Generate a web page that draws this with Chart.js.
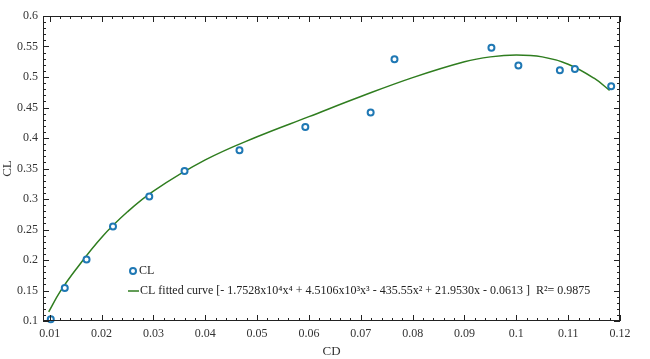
<!DOCTYPE html>
<html>
<head>
<meta charset="utf-8">
<script src="https://cdn.jsdelivr.net/npm/chart.js@4/dist/chart.umd.min.js"></script>
<style>
  html, body { margin: 0; padding: 0; background: #fff; }
  #wrap { width: 650px; height: 359px; }
</style>
</head>
<body>
<div id="wrap"><canvas id="line-chart"></canvas></div>
<script>
// measured CL vs CD points
var cdValues = [0.0102, 0.0129, 0.0171, 0.0222, 0.0292, 0.0360, 0.0466, 0.0593, 0.0719, 0.0765, 0.0952, 0.1004, 0.1084, 0.1113, 0.1183];
var clValues = [0.103, 0.154, 0.201, 0.255, 0.304, 0.346, 0.380, 0.418, 0.442, 0.529, 0.548, 0.519, 0.511, 0.513, 0.485];

// fitted curve
var fitCD = [0.0098, 0.0120, 0.0150, 0.0200, 0.0250, 0.0300, 0.0400, 0.0500, 0.0600, 0.0700, 0.0800, 0.0900, 0.0950, 0.1000, 0.1050, 0.1100, 0.1150, 0.1180];
var fitCL = [0.115, 0.148, 0.184, 0.237, 0.279, 0.313, 0.364, 0.402, 0.435, 0.468, 0.499, 0.525, 0.533, 0.536, 0.533, 0.521, 0.498, 0.478];

var xTicks = [0.01, 0.02, 0.03, 0.04, 0.05, 0.06, 0.07, 0.08, 0.09, 0.1, 0.11, 0.12];
var yTicks = [0.1, 0.15, 0.2, 0.25, 0.3, 0.35, 0.4, 0.45, 0.5, 0.55, 0.6];

var legendText = 'CL fitted curve [- 1.7528x10\u2074x\u2074 + 4.5106x10\u00b3x\u00b3 - 435.55x\u00b2 + 21.9530x - 0.0613 ]  R\u00b2= 0.9875';

var serif = '"Liberation Serif", "DejaVu Serif", serif';
var blue = '#1f78b4';
var green = '#2f7d1f';

// inward ticks on all four sides + legend inside the plot
var frameTicks = {
  id: 'frameTicks',
  afterDraw: function(chart) {
    var ctx = chart.ctx, a = chart.chartArea;
    var xs = chart.scales.x, ys = chart.scales.y;
    ctx.save();
    ctx.strokeStyle = '#222';
    ctx.lineWidth = 1;
    ctx.strokeRect(a.left + 0.5, a.top + 0.5, a.right - a.left - 1, a.bottom - a.top - 1);
    ctx.beginPath();
    var i, v, p, len;
    for (i = 0; i <= 60; i++) {
      v = 0.002 * i;
      if (v < xs.min - 1e-9 || v > xs.max + 1e-9) continue;
      p = Math.round(xs.getPixelForValue(v)) + 0.5;
      len = (i % 5 === 0) ? 6 : 3;
      ctx.moveTo(p, a.bottom); ctx.lineTo(p, a.bottom - len);
      ctx.moveTo(p, a.top); ctx.lineTo(p, a.top + len);
    }
    for (i = 0; i <= 60; i++) {
      v = 0.01 * i;
      if (v < ys.min - 1e-9 || v > ys.max + 1e-9) continue;
      p = Math.round(ys.getPixelForValue(v)) + 0.5;
      len = (i % 5 === 0) ? 6 : 3;
      ctx.moveTo(a.left, p); ctx.lineTo(a.left + len, p);
      ctx.moveTo(a.right, p); ctx.lineTo(a.right - len, p);
    }
    ctx.stroke();

    // legend
    var lx = a.left + 85, ly1 = a.top + 255, ly2 = a.top + 275;
    ctx.beginPath();
    ctx.arc(lx + 5, ly1, 3, 0, Math.PI * 2);
    ctx.fillStyle = '#fff';
    ctx.fill();
    ctx.lineWidth = 2;
    ctx.strokeStyle = blue;
    ctx.stroke();
    ctx.fillStyle = '#222';
    ctx.font = '12px ' + serif;
    ctx.textBaseline = 'middle';
    ctx.fillText(chart.data.datasets[0].label, lx + 11, ly1);
    ctx.beginPath();
    ctx.moveTo(lx, ly2); ctx.lineTo(lx + 11, ly2);
    ctx.lineWidth = 1.5;
    ctx.strokeStyle = green;
    ctx.stroke();
    ctx.fillText(chart.data.datasets[1].label, lx + 12, ly2);
    ctx.restore();
  }
};

new Chart(document.getElementById('line-chart'), {
  type: 'scatter',
  data: {
    datasets: [{
      label: 'CL',
      data: cdValues.map(function(x, i) { return { x: x, y: clValues[i] }; }),
      showLine: false,
      pointRadius: 3,
      pointBorderWidth: 2,
      pointBackgroundColor: '#fff',
      pointBorderColor: blue,
      clip: false,
      order: 0
    }, {
      label: legendText,
      data: fitCD.map(function(x, i) { return { x: x, y: fitCL[i] }; }),
      showLine: true,
      pointRadius: 0,
      borderColor: green,
      borderWidth: 1.5,
      tension: 0.4,
      fill: false,
      order: 1
    }]
  },
  options: {
    responsive: true,
    maintainAspectRatio: false,
    animation: false,
    layout: { padding: { top: 16, right: 30, left: 0, bottom: 0 } },
    plugins: {
      legend: { display: false },
      tooltip: { enabled: false }
    },
    scales: {
      x: {
        type: 'linear',
        min: 0.0087,
        max: 0.12,
        afterFit: function(s) { s.height = 38; },
        afterBuildTicks: function(s) { s.ticks = xTicks.map(function(v) { return { value: v }; }); },
        grid: { display: false, drawTicks: false },
        border: { display: false },
        ticks: {
          padding: 6,
          color: '#333',
          font: { family: serif, size: 12 },
          callback: function(v) { return String(+v.toFixed(3)); }
        },
        title: { display: true, text: 'CD', color: '#333', font: { family: serif, size: 13 }, padding: { top: 2, bottom: 0 } }
      },
      y: {
        type: 'linear',
        min: 0.1,
        max: 0.6,
        afterFit: function(s) { s.width = 43; },
        afterBuildTicks: function(s) { s.ticks = yTicks.map(function(v) { return { value: v }; }); },
        grid: { display: false, drawTicks: false },
        border: { display: false },
        ticks: {
          padding: 5,
          color: '#333',
          font: { family: serif, size: 12 },
          callback: function(v) { return String(+v.toFixed(3)); }
        },
        title: { display: true, text: 'CL', color: '#333', font: { family: serif, size: 13 }, padding: { top: 0, bottom: 0 } }
      }
    }
  },
  plugins: [frameTicks]
});
</script>
</body>
</html>
